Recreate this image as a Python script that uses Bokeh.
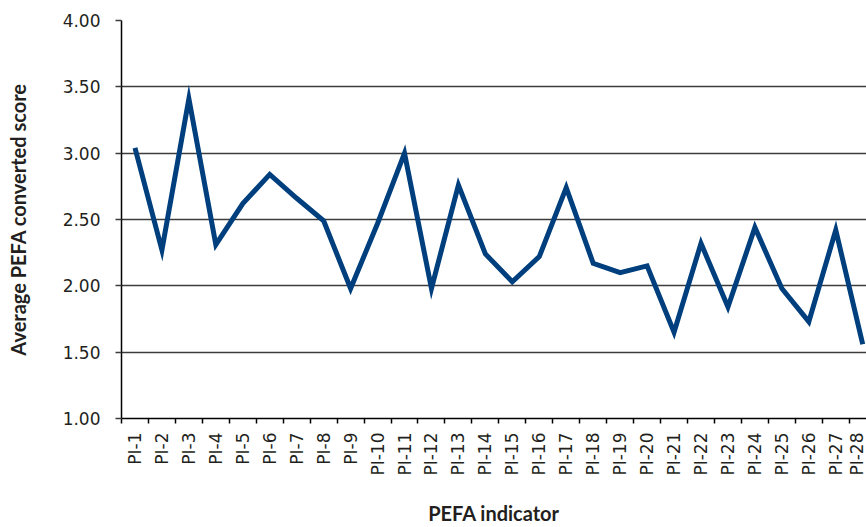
import math
from bokeh.plotting import figure
from bokeh.models import Range1d, FixedTicker, NumeralTickFormatter, ColumnDataSource
from bokeh.embed import file_html
from bokeh.resources import INLINE

categories = ["PI-%d" % i for i in range(1, 29)]
scores = [3.04, 2.27, 3.41, 2.31, 2.62, 2.84, 2.66, 2.49, 1.98, 2.47,
          3.00, 1.98, 2.76, 2.24, 2.03, 2.22, 2.74, 2.17, 2.10, 2.15,
          1.65, 2.32, 1.84, 2.44, 1.98, 1.73, 2.42, 1.56]
y_ticks = [1.00, 1.50, 2.00, 2.50, 3.00, 3.50, 4.00]
x_title = "PEFA indicator"
y_title = "Average PEFA converted score"

xpos = list(range(1, len(categories) + 1))
src = ColumnDataSource(dict(x=xpos, y=scores, cat=categories))

TICK_FONT = "DejaVu Sans"
TITLE_FONT = "Lato"
TXT = "#231F20"
GRID = "#3C3C3C"

p = figure(width=866, height=527, output_backend="svg", toolbar_location=None,
           x_range=Range1d(0.5, 28.14), y_range=Range1d(1.0, 4.0),
           min_border_left=121, min_border_right=0, min_border_top=20,
           min_border_bottom=108)
p.outline_line_color = None
p.background_fill_color = "white"
p.border_fill_color = "white"

p.line("x", "y", source=src, line_color="#003F7D", line_width=5, line_join="miter")

# x axis
xa = p.xaxis[0]
xa.ticker = FixedTicker(ticks=xpos, minor_ticks=[v - 0.5 for v in xpos] + [xpos[-1] + 0.5])
xa.major_label_overrides = {v: c for v, c in zip(xpos, categories)}
xa.major_label_orientation = math.pi / 2
xa.major_tick_line_color = None
xa.major_tick_out = 5
xa.minor_tick_out = 5
xa.minor_tick_in = 0
xa.minor_tick_line_color = "black"
xa.minor_tick_line_width = 1.5
xa.axis_line_color = "black"
xa.axis_line_width = 1.5
xa.major_label_standoff = 9
xa.major_label_text_font = TICK_FONT
xa.major_label_text_font_size = "17px"
xa.major_label_text_color = TXT
xa.axis_label = x_title
xa.axis_label_text_font = TITLE_FONT
xa.axis_label_text_font_size = "20px"
xa.axis_label_text_font_style = "bold"
xa.axis_label_text_color = TXT
xa.axis_label_standoff = 22

# y axis
ya = p.yaxis[0]
ya.ticker = FixedTicker(ticks=y_ticks)
ya.formatter = NumeralTickFormatter(format="0.00")
ya.major_tick_out = 6
ya.major_tick_in = 0
ya.major_tick_line_color = GRID
ya.major_tick_line_width = 1.5
ya.minor_tick_line_color = None
ya.axis_line_color = "black"
ya.axis_line_width = 1.5
ya.major_label_standoff = 15
ya.major_label_text_font = TICK_FONT
ya.major_label_text_font_size = "17px"
ya.major_label_text_color = TXT
ya.axis_label = y_title
ya.axis_label_text_font = TITLE_FONT
ya.axis_label_text_font_size = "20px"
ya.axis_label_text_font_style = "bold"
ya.axis_label_text_color = TXT
ya.axis_label_standoff = 30

p.xgrid.grid_line_color = None
p.ygrid.ticker = FixedTicker(ticks=y_ticks)
p.ygrid.grid_line_color = GRID
p.ygrid.grid_line_width = 1.5

open("out.html", "w").write(file_html(p, INLINE))
